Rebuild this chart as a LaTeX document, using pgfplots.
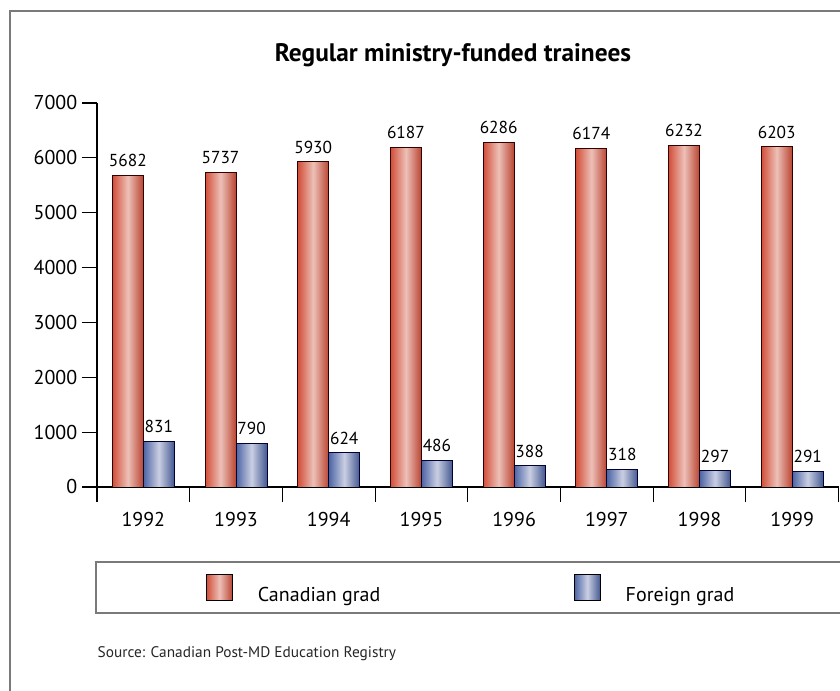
\documentclass[border=0pt]{standalone}
\usepackage{fontspec}
\setmainfont{PT Sans}
\usepackage{pgfplots}
\pgfplotsset{compat=1.18}
\definecolor{redE}{HTML}{D24E38}
\definecolor{redC}{HTML}{EDC0B8}
\definecolor{blueE}{HTML}{4C64A4}
\definecolor{blueC}{HTML}{CACFE3}
\definecolor{frameg}{HTML}{7A7A7A}
\pgfplotsset{
  redbar/.style={bar shift=-11.625pt, draw=black!80!red, line width=0.6pt,
    left color=redE, right color=redE!88!black, middle color=redC},
  bluebar/.style={bar shift=11.625pt, draw=black!80!blue, line width=0.6pt,
    left color=blueE, right color=blueE!88!black, middle color=blueC},
}
\begin{document}
\begin{tikzpicture}[x=0.75pt,y=0.75pt]
\useasboundingbox (0,0) rectangle (840,691);
\draw[frameg, line width=1.5pt] (10,-10) -- (10,680) -- (860,680);
\node[anchor=base, font=\bfseries\fontsize{19}{22}\selectfont] at (453,629) {Regular ministry-funded trainees};
\draw[frameg, line width=1pt] (96,78) rectangle (870,129);
\node[anchor=base west, font=\fontsize{11.5}{13}\selectfont, text=black!85] at (93,33) {Source: Canadian Post-MD Education Registry};
\begin{axis}[
  at={(72.75pt,153pt)}, anchor=south west,
  width=556.2pt, height=288pt, scale only axis,
  xmin=-0.5, xmax=7.5, ymin=0, ymax=7000,
  axis lines=left, axis line style={-, line width=0.8pt},
  ybar=0pt, bar width=23.25pt,
  xtick={0,1,2,3,4,5,6,7},
  xticklabels={1992,1993,1994,1995,1996,1997,1998,1999},
  minor xtick={-0.5,0.5,1.5,2.5,3.5,4.5,5.5,6.5,7.5},
  ytick={0,1000,2000,3000,4000,5000,6000,7000},
  tick align=outside,
  major x tick style={draw=none},
  major tick length=11.25pt, minor tick length=11.25pt,
  tick style={black, line width=0.8pt},
  /pgf/number format/1000 sep={},
  /pgf/number format/assume math mode=true,
  ticklabel style={font=\fontsize{15}{18}\selectfont},
  xticklabel style={yshift=-4.5pt},
  nodes near coords,
  every node near coord/.append style={font=\fontsize{13}{15}\selectfont, anchor=base, yshift=6.5pt, text=black},
  legend columns=2,
  legend cell align=left,
  legend style={at={(0.147,-0.2656)}, anchor=west, draw=none, fill=none, inner sep=0pt, outer sep=0pt,
    row sep=0pt, column sep=0pt, nodes={inner sep=0pt, font=\fontsize{15}{18}\selectfont}},
  legend image code/.code={\draw[#1, draw=black, line width=0.7pt] (0pt,-3.75pt) rectangle (19.5pt,15.75pt); \path (38.25pt,0pt);},
]
\addplot[redbar] coordinates {(0,5682)};
\addlegendentry{\makebox[237pt][l]{Canadian grad}}
\addplot[bluebar] coordinates {(0,831)};
\addlegendentry{Foreign grad}
\addplot[redbar, forget plot] coordinates {(1,5737)};
\addplot[redbar, forget plot] coordinates {(2,5930)};
\addplot[redbar, forget plot] coordinates {(3,6187)};
\addplot[redbar, forget plot] coordinates {(4,6286)};
\addplot[redbar, forget plot] coordinates {(5,6174)};
\addplot[redbar, forget plot] coordinates {(6,6232)};
\addplot[redbar, forget plot] coordinates {(7,6203)};
\addplot[bluebar, forget plot] coordinates {(1,790)};
\addplot[bluebar, forget plot] coordinates {(2,624)};
\addplot[bluebar, forget plot] coordinates {(3,486)};
\addplot[bluebar, forget plot] coordinates {(4,388)};
\addplot[bluebar, forget plot] coordinates {(5,318)};
\addplot[bluebar, forget plot] coordinates {(6,297)};
\addplot[bluebar, forget plot] coordinates {(7,291)};
\end{axis}
\end{tikzpicture}
\end{document}
